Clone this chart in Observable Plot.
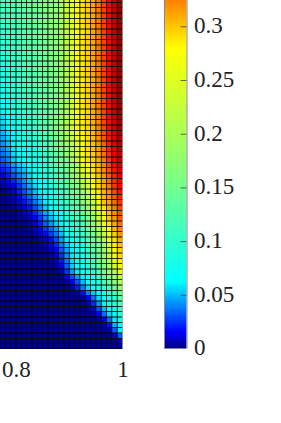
<!DOCTYPE html>
<html><head><meta charset="utf-8">
<script src="https://cdn.jsdelivr.net/npm/d3@7"></script>
<script src="https://cdn.jsdelivr.net/npm/@observablehq/plot@0.6"></script>
<style>
html,body{margin:0;padding:0;background:#fff;overflow:hidden}
#c{position:relative;width:281px;height:423px}
#c svg{position:absolute;left:0;top:0;background:transparent}
</style></head><body><div id="c"></div>
<script>
const columnEdges=[0.77,0.78,0.79,0.80,0.81,0.82,0.83,0.84,0.85,0.86,0.87,0.88,0.89,0.90,0.91,0.92,0.93,0.94,0.95,0.96,0.97,0.98,0.99,1.00];
const xTicks=[0.8,1];
const barTicks=[0,0.05,0.1,0.15,0.2,0.25,0.3];
const colorStops=[0,0.015,0.0615,0.16,0.279,0.37,0.42];
const colorRange=["#000088","#0000ff","#00ffff","#80ff80","#ffff00","#ff0000","#800000"];
// values x 1000, top row first
const cellRows=[
[115,118,122,127,132,138,144,150,158,168,180,200,227,255,279,288,298,312,328,348,370,392,412],
[112,116,120,125,131,137,143,149,157,167,179,198,225,254,279,288,298,312,328,348,370,392,412],
[110,114,118,124,129,135,141,148,156,165,177,197,224,253,279,288,298,312,328,348,370,392,412],
[107,112,116,122,128,134,140,146,155,164,176,195,222,252,278,288,298,312,328,348,370,392,412],
[104,110,115,121,126,132,139,145,153,163,175,194,221,251,278,288,298,312,328,348,370,392,412],
[102,108,113,119,125,131,137,144,152,161,173,192,219,250,278,287,297,312,327,348,370,392,411],
[99,106,111,117,123,130,136,142,150,160,172,191,217,249,278,287,297,311,327,348,370,391,411],
[96,104,109,116,122,128,135,141,149,159,170,189,216,248,277,287,297,311,327,347,370,391,411],
[94,102,107,114,120,127,133,140,148,157,169,188,214,247,277,287,297,311,327,347,370,391,411],
[91,100,105,112,119,125,132,138,146,156,167,186,213,246,277,287,297,311,327,347,370,391,411],
[88,98,104,111,117,124,131,137,145,155,166,185,211,245,277,286,296,311,327,347,370,391,411],
[86,96,102,109,116,123,129,136,144,153,165,183,210,244,277,286,296,311,327,347,370,391,411],
[83,94,100,108,114,121,128,134,143,152,163,182,208,243,276,286,296,311,327,347,370,391,411],
[80,92,98,106,113,120,126,133,141,150,162,180,206,242,276,286,296,310,326,347,369,391,411],
[78,90,96,105,111,118,125,132,140,149,160,179,205,241,276,286,296,310,326,347,369,391,410],
[75,87,94,103,110,117,123,130,138,148,159,177,203,240,276,285,295,310,326,346,369,390,410],
[72,85,92,101,108,115,122,129,137,146,157,176,201,239,276,285,295,310,326,346,369,390,410],
[70,83,90,100,107,114,120,127,136,145,156,174,200,238,275,285,295,310,326,346,369,390,410],
[67,81,88,98,105,112,119,126,135,144,154,173,198,237,275,285,295,310,326,346,369,390,410],
[65,79,87,96,104,111,118,125,134,143,153,171,197,236,275,285,295,310,326,346,369,390,410],
[62,77,85,95,103,110,117,124,133,142,152,170,195,235,275,285,295,310,326,346,369,390,410],
[60,73,81,91,100,107,114,121,131,141,154,172,198,236,275,285,294,309,325,346,369,389,409],
[57,68,76,87,96,103,111,118,129,141,156,175,202,238,276,284,294,308,325,345,368,388,408],
[55,64,72,82,92,100,108,116,127,140,158,177,205,239,276,284,293,307,324,345,368,386,408],
[52,60,68,78,88,97,105,113,125,140,160,180,209,240,277,284,293,306,324,345,368,385,407],
[49,57,65,75,84,92,100,108,121,136,155,174,201,232,269,280,292,304,322,342,365,383,405],
[46,53,63,72,79,88,95,103,117,132,150,168,193,223,260,276,291,302,319,339,363,380,402],
[42,50,60,69,75,83,90,99,112,128,146,163,186,215,252,272,291,301,317,336,360,378,400],
[39,47,57,65,71,78,85,94,108,123,141,157,178,207,244,268,290,299,314,333,357,375,397],
[36,43,55,62,66,74,80,89,104,119,136,151,170,198,235,264,289,297,312,330,355,373,395],
[33,40,52,59,62,69,75,84,100,115,131,145,162,190,227,260,288,295,309,327,352,370,392],
[27,33,44,52,57,64,71,80,94,109,125,139,156,182,216,250,278,292,306,324,347,366,388],
[20,26,37,45,52,59,67,76,88,103,118,133,150,174,204,240,268,289,303,321,342,362,384],
[13,20,30,38,46,55,63,71,81,96,112,127,143,166,193,229,257,285,299,318,337,358,379],
[7,13,22,31,41,50,59,67,75,90,106,121,137,155,177,214,247,282,296,312,332,354,375],
[3,7,15,24,35,46,55,62,69,84,100,115,131,148,162,199,237,279,293,309,327,350,370],
[1,5,12,20,30,40,49,59,66,79,93,108,124,139,155,187,223,262,287,307,322,344,365],
[1,3,8,15,24,33,43,53,62,74,85,100,115,130,146,176,210,245,280,304,318,338,359],
[1,2,5,10,18,26,36,47,58,68,78,92,107,122,137,164,197,225,268,300,313,332,352],
[1,1,3,6,12,19,29,40,52,61,70,80,100,112,128,152,183,210,253,290,307,325,345],
[1,1,2,3,7,13,22,33,45,55,64,70,92,105,121,140,168,195,240,285,303,320,341],
[1,1,1,1,3,8,15,26,39,50,59,62,84,97,115,128,154,180,227,279,299,316,338],
[1,1,1,1,2,6,11,20,32,43,52,60,78,90,107,121,146,170,212,263,289,310,331],
[1,1,1,1,1,4,7,14,25,34,44,56,72,84,100,114,137,160,197,248,278,303,323],
[1,1,1,1,1,2,4,9,17,26,37,50,66,75,90,106,127,150,184,228,266,296,316],
[1,1,1,1,1,1,2,5,10,17,29,44,58,68,80,95,118,140,169,208,256,290,309],
[1,1,1,1,1,1,1,2,6,11,22,37,50,62,70,84,108,131,154,190,246,284,302],
[1,1,1,1,1,1,1,1,3,8,15,31,46,60,68,81,103,125,150,184,234,273,297],
[1,1,1,1,1,1,1,1,2,5,10,24,41,57,66,79,99,120,146,178,221,262,292],
[1,1,1,1,1,1,1,1,1,2,6,19,37,54,64,77,94,114,141,172,208,249,287],
[1,1,1,1,1,1,1,1,1,1,3,15,33,52,62,75,90,108,135,165,195,235,282],
[1,1,1,1,1,1,1,1,1,1,1,8,24,43,58,70,82,98,122,148,175,212,255],
[1,1,1,1,1,1,1,1,1,1,1,3,13,29,44,60,72,88,108,132,155,188,228],
[1,1,1,1,1,1,1,1,1,1,1,1,3,15,30,50,62,78,95,115,135,165,200],
[1,1,1,1,1,1,1,1,1,1,1,1,1,6,20,38,55,66,82,100,117,143,175],
[1,1,1,1,1,1,1,1,1,1,1,1,1,2,4,18,38,52,65,80,96,120,152],
[1,1,1,1,1,1,1,1,1,1,1,1,1,1,1,3,15,35,55,63,78,100,131],
[1,1,1,1,1,1,1,1,1,1,1,1,1,1,1,1,6,22,42,60,70,90,118],
[1,1,1,1,1,1,1,1,1,1,1,1,1,1,1,1,2,10,30,48,63,80,105],
[1,1,1,1,1,1,1,1,1,1,1,1,1,1,1,1,1,3,16,35,55,68,92],
[1,1,1,1,1,1,1,1,1,1,1,1,1,1,1,1,1,1,3,12,35,58,80],
[1,1,1,1,1,1,1,1,1,1,1,1,1,1,1,1,1,1,1,3,18,48,66],
[1,1,1,1,1,1,1,1,1,1,1,1,1,1,1,1,1,1,1,1,6,32,60],
[1,1,1,1,1,1,1,1,1,1,1,1,1,1,1,1,1,1,1,1,1,10,32],
[1,1,1,1,1,1,1,1,1,1,1,1,1,1,1,1,1,1,1,1,1,1,7],
[1,1,1,1,1,1,1,1,1,1,1,1,1,1,1,1,1,1,1,1,1,1,2]
];
const nRows=cellRows.length;
const cells=cellRows.flatMap((row,t)=>row.map((v,i)=>({x1:columnEdges[i],x2:columnEdges[i+1],y1:nRows-t-1,y2:nRows-t,v:v/1000})));
const colorScale={type:"linear",domain:colorStops,range:colorRange,interpolate:"rgb",clamp:true};
const font="'Liberation Serif',serif";
const heat=Plot.plot({
  width:281,height:423,marginLeft:0,marginRight:158.5,marginTop:0,marginBottom:74,
  style:{background:"transparent",fontFamily:font,fontSize:"23px",color:"#222"},
  x:{domain:[0.77,1]},
  y:{domain:[0,65.44],axis:null},
  color:colorScale,
  marks:[
    Plot.rect(cells,{x1:"x1",x2:"x2",y1:"y1",y2:"y2",fill:"v",clip:true}),
    Plot.rect(cells,{x1:"x1",x2:"x2",y1:"y1",y2:"y2",fill:"none",stroke:"#000",strokeWidth:0.55,clip:true}),
    Plot.axisX({ticks:xTicks,tickFormat:d=>String(d),tickSize:0,tickPadding:11,label:null,fontSize:23,fill:"#222"})
  ]
});
const barLevels=d3.range(0,0.3245,0.001);
const bar=Plot.plot({
  width:281,height:423,marginLeft:164,marginRight:94.5,marginTop:0,marginBottom:74.5,
  style:{background:"transparent",fontFamily:font,fontSize:"23px",color:"#222"},
  x:{domain:[0,1],axis:null},
  y:{domain:[0,0.3245]},
  color:colorScale,
  marks:[
    Plot.rect(barLevels,{x1:0,x2:1,y1:d=>d,y2:d=>d+0.001,fill:d=>d,clip:true,shapeRendering:"crispEdges"}),
    Plot.ruleX([0,1],{stroke:"#8a8a8a",strokeWidth:1}),
    Plot.ruleY(barTicks.slice(1),{x1:0.74,x2:1,stroke:"#444",strokeWidth:0.8}),
    Plot.axisY({anchor:"right",ticks:barTicks,tickFormat:d=>String(d),tickSize:0,tickPadding:7,dy:-1,label:null,fontSize:23,fill:"#222"})
  ]
});
document.getElementById("c").append(heat,bar);
</script></body></html>
